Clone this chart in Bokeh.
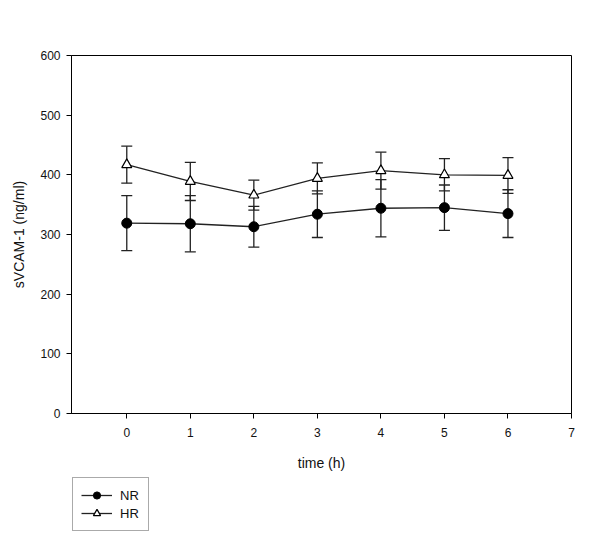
from bokeh.plotting import figure
from bokeh.layouts import column
from bokeh.models import (ColumnDataSource, Whisker, TeeHead, Legend, LegendItem,
                          FixedTicker, Range1d)
from bokeh.embed import file_html
from bokeh.resources import INLINE

# data
time_h = [0, 1, 2, 3, 4, 5, 6]
nr_mean = [319, 318, 313, 334, 344, 345, 335]
nr_err = [46, 47, 34, 39, 48, 38, 40]
hr_mean = [417, 389, 366, 394, 407, 400, 399]
hr_err = [31, 32, 25, 26, 31, 27, 30]
series_names = ["NR", "HR"]
x_ticks = [0, 1, 2, 3, 4, 5, 6, 7]
y_ticks = [0, 100, 200, 300, 400, 500, 600]

FONT = "Liberation Sans"

p = figure(width=592, height=475, output_backend="svg", toolbar_location=None,
           x_range=Range1d(-0.87, 7), y_range=Range1d(0, 600),
           min_border_left=71, min_border_right=21, min_border_top=55,
           min_border_bottom=62)
p.grid.visible = False
p.outline_line_color = "black"
p.outline_line_width = 1
p.background_fill_color = "white"
p.border_fill_color = "white"

for ax in (p.xaxis[0], p.yaxis[0]):
    ax.axis_line_color = "black"
    ax.major_tick_line_color = "black"
    ax.major_tick_out = 5
    ax.major_tick_in = 0
    ax.minor_tick_line_color = None
    ax.major_label_text_font = FONT
    ax.major_label_text_font_size = "12px"
    ax.major_label_text_color = "#111111"
    ax.axis_label_text_font = FONT
    ax.axis_label_text_font_size = "14px"
    ax.axis_label_text_font_style = "normal"
    ax.axis_label_text_color = "#111111"

p.xaxis.ticker = FixedTicker(ticks=x_ticks)
p.yaxis.ticker = FixedTicker(ticks=y_ticks)
p.xaxis.axis_label = "time (h)"
p.yaxis.axis_label = "sVCAM-1 (ng/ml)"
p.xaxis.major_label_standoff = 9
p.xaxis.axis_label_standoff = 15
p.yaxis.major_label_standoff = 6
p.yaxis.axis_label_standoff = 10

nr_src = ColumnDataSource(dict(x=time_h, y=nr_mean,
                               lo=[m - e for m, e in zip(nr_mean, nr_err)],
                               hi=[m + e for m, e in zip(nr_mean, nr_err)]))
hr_src = ColumnDataSource(dict(x=time_h, y=hr_mean,
                               lo=[m - e for m, e in zip(hr_mean, hr_err)],
                               hi=[m + e for m, e in zip(hr_mean, hr_err)]))

for src in (nr_src, hr_src):
    w = Whisker(base="x", upper="hi", lower="lo", source=src,
                line_color="#222222", line_width=1.3,
                upper_head=TeeHead(size=11, line_color="#222222", line_width=1.3),
                lower_head=TeeHead(size=11, line_color="#222222", line_width=1.3))
    p.add_layout(w)

LINE_KW = dict(line_color="#222222", line_width=1.3)
NR_MK = dict(marker="circle", size=10, fill_color="black", line_color="black")
HR_MK = dict(marker="triangle", size=10, fill_color="white", line_color="black",
             line_width=1.2)

p.line("x", "y", source=nr_src, **LINE_KW)
p.scatter("x", "y", source=nr_src, **NR_MK)
p.line("x", "y", source=hr_src, **LINE_KW)
p.scatter("x", "y", source=hr_src, **HR_MK)

# legend strip below the chart: same series, but its y range shows none of them
p2 = figure(width=592, height=60, output_backend="svg", toolbar_location=None,
            x_range=Range1d(-0.87, 7), y_range=Range1d(5000, 5001),
            min_border_left=0, min_border_right=0, min_border_top=0,
            min_border_bottom=0)
p2.axis.visible = False
p2.grid.visible = False
p2.outline_line_color = None
p2.border_fill_color = "white"

k_nr_l = p2.line("x", "y", source=nr_src, **LINE_KW)
k_nr_m = p2.scatter("x", "y", source=nr_src, **NR_MK)
k_hr_l = p2.line("x", "y", source=hr_src, **LINE_KW)
k_hr_m = p2.scatter("x", "y", source=hr_src, **HR_MK)

legend = Legend(items=[LegendItem(label=series_names[0], renderers=[k_nr_l, k_nr_m]),
                       LegendItem(label=series_names[1], renderers=[k_hr_l, k_hr_m])],
                location=(1, 4), orientation="vertical",
                label_text_font=FONT, label_text_font_size="13px",
                label_text_color="#111111",
                border_line_color="#555555", border_line_width=1,
                glyph_width=31, glyph_height=18, label_standoff=8,
                spacing=0, padding=8, margin=0,
                label_height=18)
p2.add_layout(legend, "center")

layout = column(p, p2, spacing=0)
open("out.html", "w").write(file_html(layout, INLINE))
